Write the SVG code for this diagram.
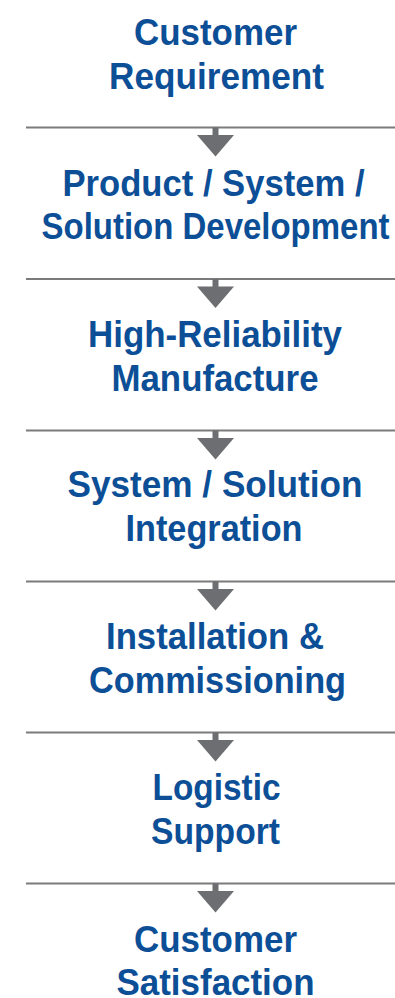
<svg xmlns="http://www.w3.org/2000/svg" width="395" height="998" viewBox="0 0 395 998">
<style>
.t{font-family:"Liberation Sans",Arial,Helvetica,sans-serif;font-weight:bold;font-size:37px;fill:#0c4f97;text-anchor:middle}
.ln{stroke:#7b7b7d;stroke-width:2.2;fill:none}
.ar{fill:#6d6e71}
</style>
<defs>
<g id="arrow">
<rect class="ar" x="212.5" y="0" width="6" height="9"/>
<polygon class="ar" points="197,7.5 234,7.5 215.5,29"/>
</g>
</defs>
<rect width="395" height="998" fill="#ffffff"/>
<g id="connectors">
<line class="ln" x1="26" y1="127.5" x2="395" y2="127.5"/><use href="#arrow" y="127.5"/>
<line class="ln" x1="26" y1="279" x2="395" y2="279"/><use href="#arrow" y="279"/>
<line class="ln" x1="26" y1="430.5" x2="395" y2="430.5"/><use href="#arrow" y="430.5"/>
<line class="ln" x1="26" y1="581.5" x2="395" y2="581.5"/><use href="#arrow" y="581.5"/>
<line class="ln" x1="26" y1="732.5" x2="395" y2="732.5"/><use href="#arrow" y="732.5"/>
<line class="ln" x1="26" y1="883.5" x2="395" y2="883.5"/><use href="#arrow" y="883.5"/>
</g>
<g id="node1">
<text class="t" x="215.5" y="45" textLength="163" lengthAdjust="spacingAndGlyphs">Customer</text>
<text class="t" x="216.5" y="89" textLength="215" lengthAdjust="spacingAndGlyphs">Requirement</text>
</g>
<g id="node2">
<text class="t" x="213.5" y="195.5" textLength="302" lengthAdjust="spacingAndGlyphs">Product / System /</text>
<text class="t" x="215.5" y="238.5" textLength="348" lengthAdjust="spacingAndGlyphs">Solution Development</text>
</g>
<g id="node3">
<text class="t" x="215" y="346.5" textLength="254" lengthAdjust="spacingAndGlyphs">High-Reliability</text>
<text class="t" x="215" y="390.5" textLength="207" lengthAdjust="spacingAndGlyphs">Manufacture</text>
</g>
<g id="node4">
<text class="t" x="215" y="497" textLength="295" lengthAdjust="spacingAndGlyphs">System / Solution</text>
<text class="t" x="214" y="541" textLength="177" lengthAdjust="spacingAndGlyphs">Integration</text>
</g>
<g id="node5">
<text class="t" x="215" y="648.5" textLength="218" lengthAdjust="spacingAndGlyphs">Installation &amp;</text>
<text class="t" x="217.5" y="693" textLength="257" lengthAdjust="spacingAndGlyphs">Commissioning</text>
</g>
<g id="node6">
<text class="t" x="216.5" y="799.5" textLength="128" lengthAdjust="spacingAndGlyphs">Logistic</text>
<text class="t" x="215.5" y="844" textLength="129" lengthAdjust="spacingAndGlyphs">Support</text>
</g>
<g id="node7">
<text class="t" x="215.5" y="951.5" textLength="163" lengthAdjust="spacingAndGlyphs">Customer</text>
<text class="t" x="215.5" y="994.5" textLength="198" lengthAdjust="spacingAndGlyphs">Satisfaction</text>
</g>
</svg>
